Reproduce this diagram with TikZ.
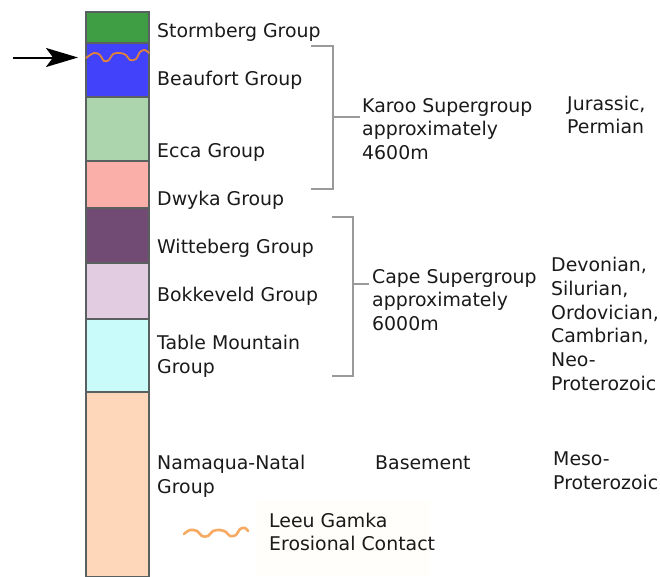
\documentclass[tikz,border=0pt]{standalone}
\usepackage{fontspec}
\setmainfont{DejaVu Sans}
\usetikzlibrary{arrows.meta}
\definecolor{cStorm}{HTML}{3F9D43}
\definecolor{cBeau}{HTML}{4242FA}
\definecolor{cEcca}{HTML}{ADD5AD}
\definecolor{cDwyka}{HTML}{FAB0A8}
\definecolor{cWitte}{HTML}{714B73}
\definecolor{cBokke}{HTML}{E2CCE2}
\definecolor{cTable}{HTML}{C9FBFB}
\definecolor{cNama}{HTML}{FED6BA}
\definecolor{cEdge}{HTML}{5A5F60}
\definecolor{cBracket}{HTML}{9A9A9A}
\definecolor{cWave}{HTML}{E0823A}
\definecolor{cWaveL}{HTML}{F6AA62}
\definecolor{cTxt}{HTML}{1A1A1A}
\definecolor{cLegend}{HTML}{FFFEFA}
\begin{document}
\begin{tikzpicture}[x=1pt,y=-1pt,
  layer/.style={draw=cEdge, line width=1.3pt, anchor=north west, minimum width=63pt, inner sep=0pt, outer sep=0pt},
  lbl/.style={anchor=west, inner sep=0pt, align=left, text=cTxt, font=\fontsize{18.9}{23.8}\selectfont},
  brk/.style={draw=cBracket, line width=1.8pt},
  wave/.style={line width=2pt, line cap=round, line join=round}]
\useasboundingbox (0,0) rectangle (660,576);
\fill[cLegend] (257,500) rectangle (430,576);
% column layers
\node[layer, fill=cStorm, minimum height=31pt] (storm) at (86,12) {};
\node[layer, fill=cBeau, minimum height=54pt] (beau) at (86,43) {};
\node[layer, fill=cEcca, minimum height=64pt] (ecca) at (86,97) {};
\node[layer, fill=cDwyka, minimum height=47pt] (dwyka) at (86,161) {};
\node[layer, fill=cWitte, minimum height=55pt] (witte) at (86,208) {};
\node[layer, fill=cBokke, minimum height=56pt] (bokke) at (86,263) {};
\node[layer, fill=cTable, minimum height=73pt] (table) at (86,319) {};
\node[layer, fill=cNama, minimum height=185pt] (nama) at (86,392) {};
% erosional contact in column
\draw[wave, cWave, line width=1.8pt] plot[smooth, tension=0.6] coordinates {(86,58) (94,53) (100,55) (104,61) (109,60) (113,54) (120,53) (126,55) (130,60) (136,59) (140,52) (145,50) (149,53)};
% arrow
\coordinate (arrowtail) at (13,57.5);
\coordinate (arrowhead) at (78,57.5);
\draw[line width=2pt, -{Stealth[length=32pt, width=19pt, inset=7pt]}] (arrowtail) -- (arrowhead);
% group labels
\node[lbl] (tStorm) at (157,32) {Stormberg Group};
\node[lbl] (tBeau) at (157,80) {Beaufort Group};
\node[lbl] (tEcca) at (157,152) {Ecca Group};
\node[lbl] (tDwyka) at (157,200) {Dwyka Group};
\node[lbl] (tWitte) at (157,248) {Witteberg Group};
\node[lbl] (tBokke) at (157,296) {Bokkeveld Group};
\node[lbl] (tTable) at (157,356) {Table Mountain\\Group};
\node[lbl] (tNama) at (157,476) {Namaqua-Natal\\Group};
% brackets
\draw[brk] (311,46) -- (333,46) -- (333,189) -- (311,189);
\coordinate (karooTick) at (333,117);
\node[lbl] (tKaroo) at (362,129) {Karoo Supergroup\\approximately\\4600m};
\draw[brk] (karooTick) -- (360,117);
\draw[brk] (332,217) -- (353,217) -- (353,376) -- (332,376);
\coordinate (capeTick) at (353,284);
\node[lbl] (tCape) at (372,300) {Cape Supergroup\\approximately\\6000m};
\draw[brk] (capeTick) -- (369,284);
\node[lbl] (tBase) at (375,463) {Basement};
% ages
\node[lbl] (aKaroo) at (567,115) {Jurassic,\\Permian};
\node[lbl] (aCape) at (551,324) {Devonian,\\Silurian,\\Ordovician,\\Cambrian,\\Neo-\\Proterozoic};
\node[lbl] (aBase) at (553,471) {Meso-\\Proterozoic};
% legend
\draw[wave, cWaveL, line width=2.6pt] plot[smooth, tension=0.6] coordinates {(184,534) (190,530) (197,531) (202,536) (208,536) (213,531) (220,530) (226,532) (230,536) (236,535) (240,529) (245,528) (248,531)};
\node[lbl] (tLegend) at (269,532) {Leeu Gamka\\Erosional Contact};
\end{tikzpicture}
\end{document}
